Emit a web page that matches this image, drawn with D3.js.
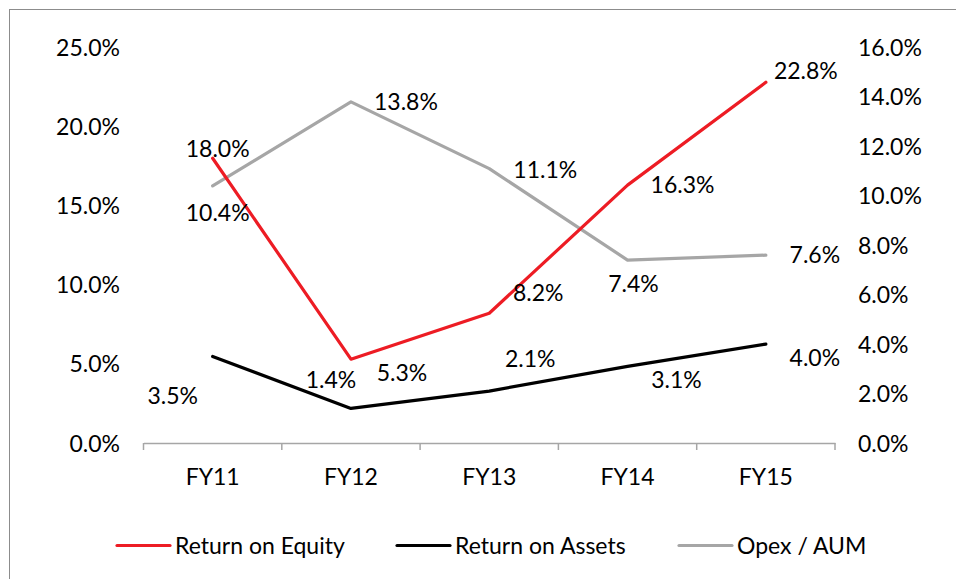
<!DOCTYPE html>
<html>
<head>
<meta charset="utf-8">
<script src="https://cdn.jsdelivr.net/npm/d3@7"></script>
<style>
  html, body { margin: 0; padding: 0; background: #fff; }
  svg { display: block; font-family: Lato, "Open Sans", sans-serif; }
</style>
</head>
<body>
<svg id="chart" width="956" height="579"></svg>
<script>
// ---- data ----
const categories = ["FY11", "FY12", "FY13", "FY14", "FY15"];
const roe = [18.0, 5.3, 8.2, 16.3, 22.8];      // left axis
const roa = [3.5, 1.4, 2.1, 3.1, 4.0];         // right axis
const opex = [10.4, 13.8, 11.1, 7.4, 7.6];     // right axis
const leftTicks = [0, 5, 10, 15, 20, 25];
const rightTicks = [0, 2, 4, 6, 8, 10, 12, 14, 16];
const seriesNames = ["Return on Equity", "Return on Assets", "Opex / AUM"];

// label offsets (style/layout) relative to points
const roeLabelOffsets = [[5, -9], [51, 14], [49, -20], [55, 0], [40, -11]];
const roaLabelOffsets = [[-40, 40], [-20, -28], [41, -32], [49, 14], [49, 14]];
const opexLabelOffsets = [[5, 27], [55, 0], [56, 1], [6, 24], [49, 0]];

const svg = d3.select("#chart");
const FONT = 23;

// frame
svg.append("rect").attr("x", 9.5).attr("y", 9.5).attr("width", 970).attr("height", 600)
  .attr("fill", "none").attr("stroke", "#8c8c8c").attr("stroke-width", 1);

const x = d3.scaleBand().domain(categories).range([143.5, 835]);
const yL = d3.scaleLinear().domain([0, 25]).range([443, 47.5]);
const yR = d3.scaleLinear().domain([0, 16]).range([443, 47.5]);
const cx = d => x(d) + x.bandwidth() / 2;
const fmt = v => v.toFixed(1) + "%";

// x axis
const xAxis = svg.append("g").attr("transform", "translate(0,443)")
  .call(d3.axisBottom(x).tickSize(0).tickPadding(0));
xAxis.select(".domain").attr("stroke", "#a6a6a6").attr("stroke-width", 1.5);
xAxis.selectAll(".tick text").remove();
// boundary tick marks
const bounds = categories.map(c => x(c)).concat([x.range()[1]]);
svg.append("g").selectAll("line").data(bounds).join("line")
  .attr("x1", d => d).attr("x2", d => d).attr("y1", 443).attr("y2", 450)
  .attr("stroke", "#a6a6a6").attr("stroke-width", 1.5);
svg.append("g").selectAll("text").data(categories).join("text")
  .attr("x", d => cx(d)).attr("y", 477 + 8)
  .attr("text-anchor", "middle").attr("font-size", FONT).attr("fill", "#000")
  .text(d => d);

// left axis labels
const lAxis = svg.append("g").attr("transform", "translate(120,0)")
  .call(d3.axisLeft(yL).tickValues(leftTicks).tickSize(0).tickPadding(0).tickFormat(fmt));
lAxis.select(".domain").remove();
lAxis.selectAll("text").attr("font-size", FONT).attr("font-family", "Lato, 'Open Sans', sans-serif")
  .attr("fill", "#000").attr("dy", null).attr("dominant-baseline", null)
  .attr("y", 8);

// right axis labels
const rAxis = svg.append("g").attr("transform", "translate(858,0)")
  .call(d3.axisRight(yR).tickValues(rightTicks).tickSize(0).tickPadding(0).tickFormat(fmt));
rAxis.select(".domain").remove();
rAxis.selectAll("text").attr("font-size", FONT).attr("font-family", "Lato, 'Open Sans', sans-serif")
  .attr("fill", "#000").attr("dy", null).attr("y", 8);

// series
const series = [
  { name: seriesNames[0], values: roe, scale: yL, color: "#ed1c24", offsets: roeLabelOffsets },
  { name: seriesNames[1], values: roa, scale: yR, color: "#000000", offsets: roaLabelOffsets },
  { name: seriesNames[2], values: opex, scale: yR, color: "#a6a6a6", offsets: opexLabelOffsets }
];
const drawOrder = [series[2], series[1], series[0]];

drawOrder.forEach(s => {
  const line = d3.line().x((d, i) => cx(categories[i])).y(d => s.scale(d));
  svg.append("path").datum(s.values).attr("d", line)
    .attr("fill", "none").attr("stroke", s.color).attr("stroke-width", 3.2)
    .attr("stroke-linejoin", "round").attr("stroke-linecap", "round");
});

series.forEach(s => {
  svg.append("g").selectAll("text").data(s.values).join("text")
    .attr("x", (d, i) => cx(categories[i]) + s.offsets[i][0])
    .attr("y", (d, i) => s.scale(d) + s.offsets[i][1] + 8)
    .attr("text-anchor", "middle").attr("font-size", FONT).attr("fill", "#000")
    .text(d => fmt(d));
});

// legend
const legendItems = [
  { x1: 117, x2: 170, tx: 175 },
  { x1: 397, x2: 450, tx: 455 },
  { x1: 679, x2: 732, tx: 737 }
];
series.forEach((s, i) => {
  const g = svg.append("g");
  g.append("line").attr("x1", legendItems[i].x1).attr("x2", legendItems[i].x2)
    .attr("y1", 545.5).attr("y2", 545.5).attr("stroke", s.color).attr("stroke-width", 3.2)
    .attr("stroke-linecap", "round");
  g.append("text").attr("x", legendItems[i].tx).attr("y", 545.5 + 8)
    .attr("font-size", FONT).attr("fill", "#000").text(s.name);
});
</script>
</body>
</html>
